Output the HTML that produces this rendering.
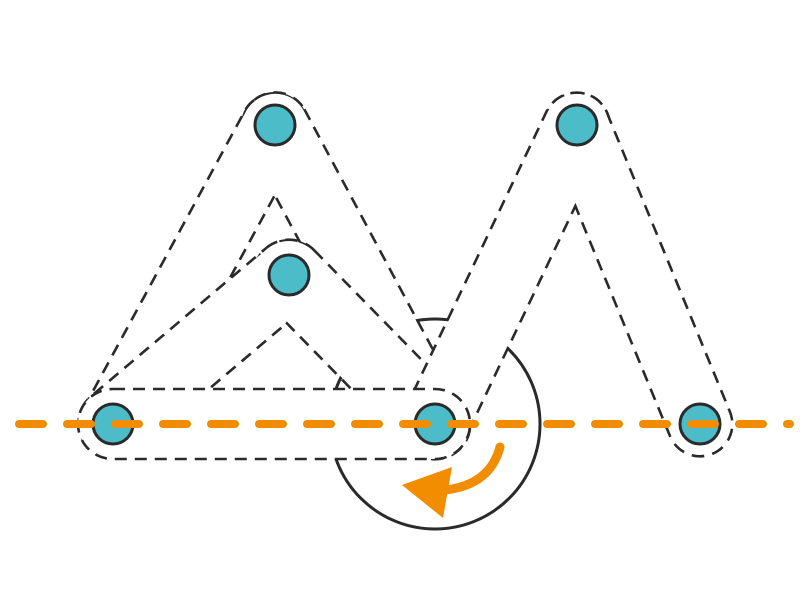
<!DOCTYPE html>
<html><head><meta charset="utf-8"><style>html,body{margin:0;padding:0;background:#fff}svg{display:block}</style></head><body>
<svg width="809" height="596" viewBox="0 0 809 596" xmlns="http://www.w3.org/2000/svg">
<defs>
<path id="h" d="M113,389 L435,389 A35 35 0 0 1 435,459 L113,459 A35 35 0 0 1 113,389Z"/>
<g id="abd">
<path d="M84.9,408.8 L246.9,109.8 A32 32 0 0 1 303.1,140.2 L141.1,439.2 A32 32 0 0 1 84.9,408.8Z"/>
<path d="M303.2,109.9 L463.2,408.9 A32 32 0 0 1 406.8,439.1 L246.8,140.1 A32 32 0 0 1 303.2,109.9Z"/>
</g>
<g id="c">
<path d="M311,300.9 L135,449.9 A34 34 0 0 1 91,398.1 L267,249.1 A34 34 0 0 1 311,300.9Z"/>
<path d="M313.3,251.2 L459.3,400.2 A34 34 0 0 1 410.7,447.8 L264.7,298.8 A34 34 0 0 1 313.3,251.2Z"/>
</g>
<g id="de">
<path d="M406.1,410.3 L548.1,111.3 A32 32 0 0 1 605.9,138.7 L463.9,437.7 A32 32 0 0 1 406.1,410.3Z"/>
<path d="M605.7,113.2 L728.7,412.2 A31 31 0 0 1 671.3,435.8 L548.3,136.8 A31 31 0 0 1 605.7,113.2Z"/>
</g>
</defs>
<circle cx="435" cy="424" r="105" fill="none" stroke="#2a2a2a" stroke-width="3"/>
<g fill="#fff"><use href="#h"/><use href="#abd"/><use href="#c"/><use href="#de"/></g>
<use href="#abd" fill="none" stroke="#2a2a2a" stroke-width="5.2" stroke-dasharray="12 8"/>
<use href="#abd" fill="#fff"/>
<use href="#c" fill="none" stroke="#2a2a2a" stroke-width="5.2" stroke-dasharray="12 8"/>
<use href="#c" fill="#fff"/>
<use href="#de" fill="none" stroke="#2a2a2a" stroke-width="5.2" stroke-dasharray="12 8"/>
<use href="#de" fill="#fff"/>
<use href="#h" fill="#fff" stroke="#2a2a2a" stroke-width="2.6" stroke-dasharray="12 8"/>
<path d="M500,447 Q490,485 445,490" fill="none" stroke="#f28c00" stroke-width="9" stroke-linecap="round"/>
<polygon points="402,485 452,467 443,518" fill="#f28c00"/>
<g fill="#4bbcc8" stroke="#2a2a2a" stroke-width="3">
<circle cx="113" cy="424" r="20"/>
<circle cx="275" cy="125" r="20"/>
<circle cx="289" cy="275" r="20"/>
<circle cx="435" cy="424" r="20"/>
<circle cx="577" cy="125" r="20"/>
<circle cx="700" cy="424" r="20"/>
</g>
<line x1="19" y1="424" x2="790" y2="424" stroke="#f28c00" stroke-width="8" stroke-linecap="round" stroke-dasharray="24 24"/>
</svg>
</body></html>
